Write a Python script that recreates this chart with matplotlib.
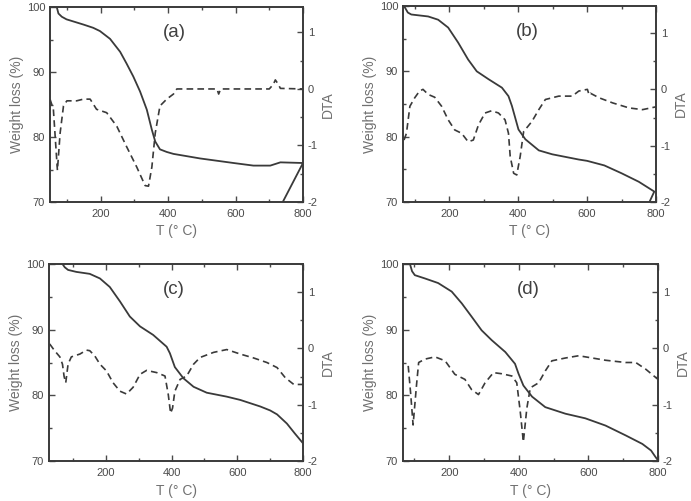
import matplotlib.pyplot as plt
from matplotlib.ticker import MultipleLocator

plt.rcParams['font.family'] = ['Liberation Sans', 'DejaVu Sans']
plt.rcParams['axes.unicode_minus'] = False

# ---- panel (a) ----
a_tg_t = [70, 72, 75, 85, 99, 149, 178, 198, 228, 258, 277, 297, 317, 337, 352, 362, 376, 396, 416, 495, 594, 653,
          703, 733, 800, 740, 725]
a_tg_w = [100, 99.6, 99.0, 98.5, 98.1, 97.3, 96.8, 96.3, 95.1, 93.1, 91.3, 89.3, 87.0, 84.2, 81.1, 79.3, 78.1, 77.7,
          77.4, 76.7, 76.0, 75.6, 75.6, 76.1, 76.0, 70.0, 68.3]
a_dta_t = [50, 60, 66, 72, 80, 90, 100, 129, 149, 169, 188, 218, 248, 277, 307, 332, 342, 352, 362, 376, 396, 416,
           426, 545, 550, 556, 700, 712, 718, 726, 733, 800]
a_dta = [-0.18, -0.36, -0.9, -1.44, -0.78, -0.3, -0.21, -0.21, -0.18, -0.18, -0.36, -0.42, -0.66, -1.02, -1.38, -1.71,
         -1.72, -1.38, -0.78, -0.3, -0.18, -0.09, 0.0, 0.0, -0.09, 0.0, 0.0, 0.08, 0.16, 0.09, 0.01, 0.0]

# ---- panel (b) ----
b_tg_t = [69, 80, 90, 139, 168, 197, 226, 255, 280, 314, 353, 372, 382, 401, 421, 460, 499, 576, 600, 650, 700, 750,
          795, 781]
b_tg_w = [100, 99.0, 98.7, 98.4, 97.9, 96.7, 94.4, 91.8, 90.0, 88.8, 87.5, 86.2, 84.7, 81.1, 79.6, 77.9, 77.3, 76.5,
          76.3, 75.6, 74.4, 73.1, 71.6, 70.0]
b_dta_t = [69, 76, 86, 100, 114, 124, 139, 158, 178, 197, 216, 236, 255, 270, 285, 304, 323, 343, 362, 372, 377, 387,
           396, 406, 416, 440, 460, 479, 518, 557, 576, 601, 606, 610, 635, 674, 722, 761, 800]
b_dta = [-0.9, -0.78, -0.3, -0.15, -0.03, 0.0, -0.09, -0.14, -0.3, -0.54, -0.72, -0.78, -0.93, -0.9, -0.63, -0.42,
         -0.38, -0.42, -0.54, -0.78, -1.19, -1.49, -1.52, -1.19, -0.75, -0.57, -0.36, -0.18, -0.12, -0.12, -0.03, 0.0,
         -0.1, -0.07, -0.15, -0.24, -0.33, -0.36, -0.31]

# ---- panel (c) ----
c_tg_t = [68, 75, 85, 110, 151, 182, 212, 243, 273, 304, 344, 385, 395, 410, 436, 467, 507, 568, 609, 670, 700, 721,
          751, 775, 800]
c_tg_w = [100, 99.5, 99.1, 98.8, 98.5, 97.8, 96.5, 94.3, 92.0, 90.5, 89.2, 87.4, 86.4, 84.3, 82.6, 81.3, 80.4, 79.8,
          79.3, 78.3, 77.7, 77.1, 75.7, 74.2, 72.7]
c_dta_t = [29, 44, 60, 68, 73, 78, 85, 95, 121, 141, 151, 166, 182, 202, 222, 243, 263, 283, 304, 324, 355, 380, 390,
           397, 403, 410, 426, 446, 467, 487, 528, 568, 609, 650, 690, 721, 746, 772, 800]
c_dta = [0.08, -0.04, -0.15, -0.28, -0.5, -0.61, -0.28, -0.15, -0.1, -0.03, -0.04, -0.13, -0.28, -0.4, -0.61, -0.76,
         -0.81, -0.69, -0.46, -0.39, -0.43, -0.49, -0.82, -1.15, -1.06, -0.76, -0.55, -0.49, -0.28, -0.16, -0.07,
         -0.02, -0.1, -0.17, -0.25, -0.34, -0.52, -0.64, -0.64]

# ---- panel (d) ----
d_tg_t = [87, 93, 101, 130, 168, 207, 236, 264, 293, 322, 361, 389, 399, 413, 438, 476, 534, 591, 649, 707, 755, 780,
          793, 800]
d_tg_w = [100, 98.9, 98.3, 97.8, 97.1, 95.8, 94.0, 92.0, 89.9, 88.4, 86.6, 84.8, 83.3, 81.5, 79.8, 78.2, 77.2, 76.5,
          75.4, 73.9, 72.6, 71.6, 70.6, 70.1]
d_dta_t = [82, 89, 96, 106, 112, 130, 159, 188, 216, 245, 264, 284, 303, 327, 351, 380, 394, 404, 413, 423, 433, 457,
           476, 495, 534, 572, 611, 649, 707, 736, 765, 800]
d_dta = [-0.31, -0.8, -1.36, -0.64, -0.25, -0.19, -0.15, -0.22, -0.46, -0.55, -0.73, -0.82, -0.61, -0.43, -0.45,
         -0.49, -0.61, -1.12, -1.66, -1.06, -0.7, -0.61, -0.4, -0.22, -0.17, -0.13, -0.17, -0.21, -0.25, -0.25, -0.37,
         -0.55]

panels = [
    ('(a)', [50 / 691, 1 - 202 / 501, 253 / 691, 195 / 501], (50, 800), 1.45,
     a_tg_t, a_tg_w, a_dta_t, a_dta),
    ('(b)', [403 / 691, 1 - 202 / 501, 253 / 691, 196 / 501], (66, 800), 1.48,
     b_tg_t, b_tg_w, b_dta_t, b_dta),
    ('(c)', [49 / 691, 1 - 461 / 501, 254 / 691, 197 / 501], (27, 800), 1.5,
     c_tg_t, c_tg_w, c_dta_t, c_dta),
    ('(d)', [403 / 691, 1 - 461 / 501, 255 / 691, 197 / 501], (67, 800), 1.5,
     d_tg_t, d_tg_w, d_dta_t, d_dta),
]

line_c = '#3a3a3a'
tick_c = '#4a4a4a'
label_c = '#707070'

fig = plt.figure(figsize=(6.91, 5.01), dpi=100)

for name, rect, xlim, dta_top, tg_t, tg_w, dta_t, dta in panels:
    ax = fig.add_axes(rect)
    ax.plot(tg_t, tg_w, color=line_c, lw=1.3)
    ax.set_xlim(*xlim)
    ax.set_ylim(70, 100)
    ax.set_yticks([70, 80, 90, 100])
    ax.set_xticks([200, 400, 600, 800])
    ax.xaxis.set_minor_locator(MultipleLocator(100))
    ax.yaxis.set_minor_locator(MultipleLocator(5))
    ax.tick_params(which='both', direction='in', top=True, colors=tick_c, labelsize=8, labelcolor=tick_c)
    ax.tick_params(which='major', length=4, width=1)
    ax.tick_params(which='minor', length=2, width=1)
    ax.tick_params(axis='x', pad=5)
    ax.set_xlabel('T (° C)', color=label_c, fontsize=10, labelpad=4)
    ax.set_ylabel('Weight loss (%)', color=label_c, fontsize=10, labelpad=2)
    for s in ax.spines.values():
        s.set_color(line_c)
        s.set_linewidth(1.2)
    ax.text(0.49, 0.87, name, transform=ax.transAxes, ha='center', va='center',
            fontsize=13.5, color='#404040')

    ax2 = ax.twinx()
    ax2.plot(dta_t, dta, color=line_c, lw=1.2, ls=(0, (4, 2.5)))
    ax2.set_ylim(-2, dta_top)
    ax2.set_yticks([-2, -1, 0, 1])
    ax2.yaxis.set_minor_locator(MultipleLocator(0.5))
    ax2.tick_params(which='both', direction='in', colors=tick_c, labelsize=8, labelcolor=tick_c)
    ax2.tick_params(which='major', length=4, width=1)
    ax2.tick_params(which='minor', length=2, width=1)
    ax2.set_ylabel('DTA', color=label_c, fontsize=10, labelpad=2)
    for s in ax2.spines.values():
        s.set_color(line_c)
        s.set_linewidth(1.2)

fig.savefig('out.png', dpi=100)
